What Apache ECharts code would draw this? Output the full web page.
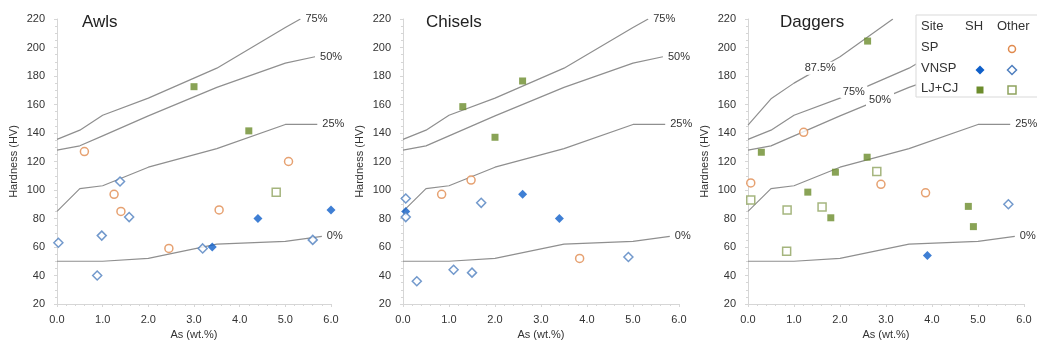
<!DOCTYPE html>
<html>
<head>
<meta charset="utf-8">
<script src="https://cdn.jsdelivr.net/npm/echarts@6/dist/echarts.min.js"></script>
<style>
  html, body { margin: 0; padding: 0; background: #fff; }
  #main { width: 1037px; height: 347px; }
</style>
</head>
<body>
<div id="main"></div>
<script>
// percentile curves (same in every panel)
const curve0 = [[0, 50], [1, 50], [2, 52], [3.5, 62], [5, 64], [5.8, 67.5]]
const curve25 = [[0, 85], [0.5, 101], [1, 103], [2, 116], [3.5, 129], [5, 146], [5.7, 146]]
const curve50 = [[0, 128], [0.5, 131], [1, 138], [2, 152], [3.5, 172], [5, 189], [5.65, 193.5]]
const curve75 = [[0, 135.5], [0.5, 142], [1, 152.5], [2, 164.5], [3.5, 185.5], [5, 214], [5.33, 220]]
const curve875 = [[0, 145.5], [0.5, 164], [1, 175], [2, 193.5], [3.15, 220]]

// Awls
const awlsSpOther = [[0.6, 127], [1.25, 97], [1.4, 85], [2.45, 59], [3.55, 86], [5.07, 120]]
const awlsVnspSh = [[3.4, 60], [4.4, 80], [6.0, 86]]
const awlsVnspOther = [[0.03, 63], [0.88, 40], [0.98, 68], [1.38, 106], [1.58, 81], [3.19, 59], [5.6, 65]]
const awlsLjSh = [[3.0, 172.5], [4.2, 141.5]]
const awlsLjOther = [[4.8, 98.5]]

// Chisels
const chiselsSpOther = [[0.84, 97], [1.48, 107], [3.84, 52]]
const chiselsVnspSh = [[0.06, 85], [2.6, 97], [3.4, 80]]
const chiselsVnspOther = [[0.06, 94], [0.06, 81], [0.3, 36], [1.1, 44], [1.5, 42], [1.7, 91], [4.9, 53]]
const chiselsLjSh = [[1.3, 158.5], [2.0, 137], [2.6, 176.5]]
const chiselsLjOther = []

// Daggers
const daggersSpOther = [[0.06, 105], [1.21, 140.5], [2.89, 104], [3.86, 98]]
const daggersVnspSh = [[3.9, 54]]
const daggersVnspOther = [[5.66, 90]]
const daggersLjSh = [[0.29, 126.5], [1.3, 98.5], [1.8, 80.5], [1.9, 112.5], [2.59, 123], [2.6, 204.5], [4.79, 88.5], [4.9, 74.3]]
const daggersLjOther = [[0.06, 93], [0.84, 57], [0.85, 86], [1.61, 88], [2.8, 113]]

const panelTitles = ['Awls', 'Chisels', 'Daggers']
const xTicks = ['0.0', '1.0', '2.0', '3.0', '4.0', '5.0', '6.0']

const textColor = '#333'
const curveColor = '#8f8f8f'
const axisColor = '#d6d6d6'
const orange = '#e08a4e'
const blueDark = '#0f5fc9'
const blueLight = '#4f7fbf'
const green = '#6c8c2c'
const greenLight = '#8ea35e'

const font = 'Liberation Sans'

const chart = echarts.init(document.getElementById('main'))

const gridList = [
  { left: 57, top: 19, width: 274, height: 285 },
  { left: 403, top: 19, width: 276, height: 285 },
  { left: 748, top: 19, width: 276, height: 285 }
]

const xAxes = gridList.map((g, i) => ({
  gridIndex: i,
  type: 'value',
  min: 0,
  max: 6,
  interval: 1,
  name: 'As (wt.%)',
  nameLocation: 'middle',
  nameGap: 24,
  nameTextStyle: { color: textColor, fontSize: 11, fontFamily: font },
  axisLine: { lineStyle: { color: axisColor } },
  axisTick: { show: true, length: 3, lineStyle: { color: axisColor } },
  minorTick: { show: true, splitNumber: 5, length: 2, lineStyle: { color: axisColor } },
  splitLine: { show: false },
  axisLabel: {
    color: textColor, fontSize: 11, fontFamily: font, margin: 10,
    formatter: (v) => xTicks[Math.round(v)]
  }
}))

const yAxes = gridList.map((g, i) => ({
  gridIndex: i,
  type: 'value',
  min: 20,
  max: 220,
  interval: 20,
  name: 'Hardness (HV)',
  nameLocation: 'middle',
  nameGap: 38,
  nameTextStyle: { color: textColor, fontSize: 11, fontFamily: font },
  axisLine: { show: true, lineStyle: { color: axisColor } },
  axisTick: { show: true, length: 3, lineStyle: { color: axisColor } },
  minorTick: { show: true, splitNumber: 4, length: 2, lineStyle: { color: axisColor } },
  splitLine: { show: false },
  axisLabel: { color: textColor, fontSize: 11, fontFamily: font, margin: 12 }
}))

const labelStyle = { color: textColor, fontSize: 11, fontFamily: font }

// a percentile line, with its label at the end or sitting on the line
function curveSeries(name, data, gi, midLabel) {
  let s = {
    name: name,
    type: 'line',
    xAxisIndex: gi,
    yAxisIndex: gi,
    data: data,
    showSymbol: false,
    symbol: 'none',
    silent: true,
    z: 1,
    lineStyle: { color: curveColor, width: 1.2 }
  }
  if (midLabel) {
    s.markPoint = {
      symbol: 'rect',
      symbolSize: midLabel.size,
      itemStyle: { color: '#fff' },
      label: { show: true, position: 'inside', formatter: name, ...labelStyle },
      data: [{ coord: midLabel.coord }]
    }
  } else {
    s.endLabel = { show: true, formatter: name, distance: 5, ...labelStyle }
  }
  return s
}

function pointSeries(name, data, gi, kind) {
  const styles = {
    spOther: { symbol: 'circle', symbolSize: 8, itemStyle: { color: '#fff', borderColor: orange, borderWidth: 1.5 } },
    vnspSh: { symbol: 'diamond', symbolSize: 9, itemStyle: { color: blueDark } },
    vnspOther: { symbol: 'diamond', symbolSize: 9, itemStyle: { color: '#fff', borderColor: blueLight, borderWidth: 1.5 } },
    ljSh: { symbol: 'rect', symbolSize: 7, itemStyle: { color: green } },
    ljOther: { symbol: 'rect', symbolSize: 8, itemStyle: { color: '#fff', borderColor: greenLight, borderWidth: 1.5 } }
  }
  return {
    name: name,
    type: 'scatter',
    xAxisIndex: gi,
    yAxisIndex: gi,
    data: data,
    z: 3,
    ...styles[kind]
  }
}

const panelPoints = [
  [awlsSpOther, awlsVnspSh, awlsVnspOther, awlsLjSh, awlsLjOther],
  [chiselsSpOther, chiselsVnspSh, chiselsVnspOther, chiselsLjSh, chiselsLjOther],
  [daggersSpOther, daggersVnspSh, daggersVnspOther, daggersLjSh, daggersLjOther]
]
const kinds = ['spOther', 'vnspSh', 'vnspOther', 'ljSh', 'ljOther']

let series = []
for (let gi = 0; gi < 3; gi++) {
  series.push(curveSeries('0%', curve0, gi))
  series.push(curveSeries('25%', curve25, gi))
  if (gi < 2) {
    series.push(curveSeries('50%', curve50, gi))
    series.push(curveSeries('75%', curve75, gi))
  } else {
    series.push(curveSeries('50%', curve50, gi, { coord: [2.87, 163.5], size: [28, 13] }))
    series.push(curveSeries('75%', curve75, gi, { coord: [2.3, 169], size: [27, 13] }))
    series.push(curveSeries('87.5%', curve875, gi, { coord: [1.57, 185.5], size: [38, 13] }))
  }
  panelPoints[gi].forEach((pts, k) => {
    series.push(pointSeries(panelTitles[gi] + ' ' + kinds[k], pts, gi, kinds[k]))
  })
}

// the small table legend in the Daggers panel
const lg = { x: 916, y: 15, w: 130, h: 82 }
const colSh = 980
const colOther = 1012
const rowY = [28, 49, 70, 90]
const legendText = (text, x, y) => ({
  type: 'text', left: x, top: y - 8, z: 101,
  style: { text: text, fill: textColor, fontSize: 13, fontFamily: font }
})
const diamondShape = (cx, cy, r) => ({
  points: [[cx, cy - r], [cx + r, cy], [cx, cy + r], [cx - r, cy]]
})

const legendGraphic = [
  {
    type: 'rect', z: 100,
    shape: { x: lg.x, y: lg.y, width: lg.w, height: lg.h },
    style: { fill: '#fff', stroke: '#d9d9d9', lineWidth: 1 }
  },
  legendText('Site', 921, rowY[0]),
  legendText('SH', 965, rowY[0]),
  legendText('Other', 997, rowY[0]),
  legendText('SP', 921, rowY[1]),
  legendText('VNSP', 921, rowY[2]),
  legendText('LJ+CJ', 921, rowY[3]),
  { type: 'circle', z: 101, shape: { cx: colOther, cy: rowY[1], r: 3.5 }, style: { fill: '#fff', stroke: orange, lineWidth: 1.5 } },
  { type: 'polygon', z: 101, shape: diamondShape(colSh, rowY[2], 4.5), style: { fill: blueDark } },
  { type: 'polygon', z: 101, shape: diamondShape(colOther, rowY[2], 4.5), style: { fill: '#fff', stroke: blueLight, lineWidth: 1.5 } },
  { type: 'rect', z: 101, shape: { x: colSh - 3.5, y: rowY[3] - 3.5, width: 7, height: 7 }, style: { fill: green } },
  { type: 'rect', z: 101, shape: { x: colOther - 4, y: rowY[3] - 4, width: 8, height: 8 }, style: { fill: '#fff', stroke: greenLight, lineWidth: 1.5 } }
]

let option = {
  backgroundColor: '#fff',
  animation: false,
  title: panelTitles.map((t, i) => ({
    text: t,
    left: [77, 421, 775][i],
    top: 9,
    textStyle: { color: '#222', fontSize: 17, fontWeight: 'normal', fontFamily: font }
  })),
  grid: gridList,
  xAxis: xAxes,
  yAxis: yAxes,
  series: series,
  graphic: legendGraphic
}
option && chart.setOption(option)
</script>
</body>
</html>
